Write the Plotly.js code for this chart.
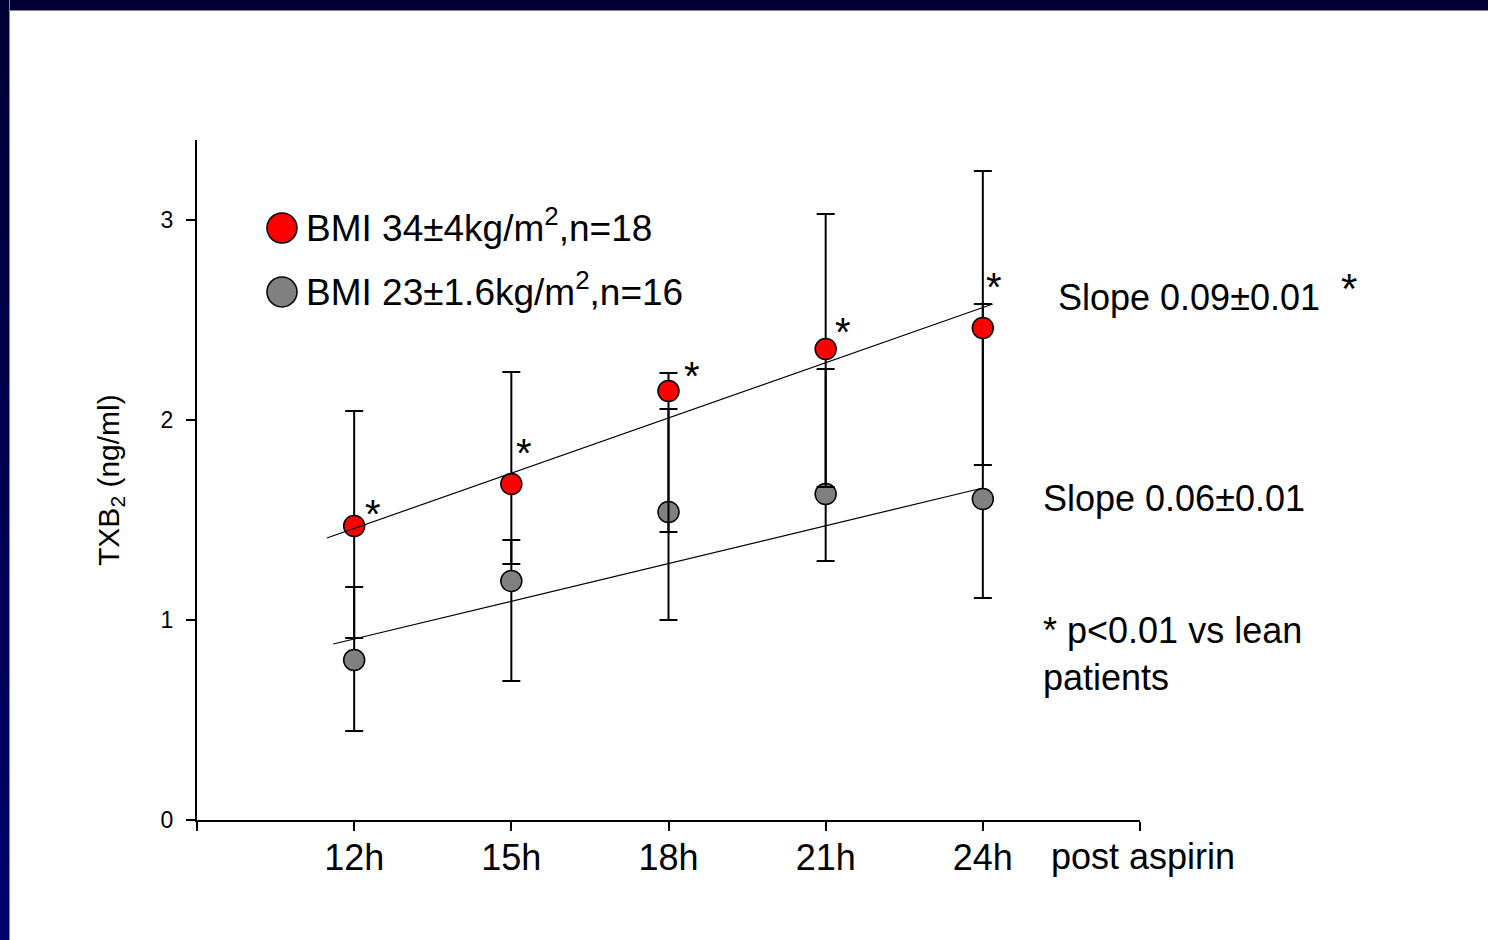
<!DOCTYPE html>
<html>
<head>
<meta charset="utf-8">
<script src="https://cdn.plot.ly/plotly-3.0.1.min.js"></script>
<style>
  html, body { margin: 0; padding: 0; background: #ffffff; }
  #wrap { position: relative; width: 1488px; height: 940px; overflow: hidden; background: #ffffff; }
  #topband { position: absolute; left: 0; top: 0; width: 1488px; height: 10px; background: #000033; border-bottom: 1px solid #8a8a8a; }
  #leftband { position: absolute; left: 0; top: 0; width: 9px; height: 940px; background: linear-gradient(#000033, #00006c); border-right: 1px solid #8a8a8a; }
  #chart { position: absolute; left: 0; top: 0; width: 1488px; height: 940px; }
</style>
</head>
<body>
<div id="wrap">
  <div id="chart"></div>
  <div id="topband"></div>
  <div id="leftband"></div>
</div>
<script>
// ---- data ----
const hours = [12, 15, 18, 21, 24];
const hourTickText = ['12h', '15h', '18h', '21h', '24h'];
const axisEndTicks = [9, 27];
const yTickVals = [0, 1, 2, 3];

const obeseMean = [1.47, 1.68, 2.145, 2.355, 2.46];
const obeseErrPlus = [0.575, 0.56, 0.09, 0.675, 0.785];
const obeseErrMinus = [0.56, 0.40, 0.705, 0.69, 0.685];

const leanMean = [0.80, 1.195, 1.54, 1.63, 1.605];
const leanErrPlus = [0.365, 0.205, 0.515, 0.625, 0.975];
const leanErrMinus = [0.355, 0.50, 0.54, 0.335, 0.495];

// regression line end points
const obeseFitX = [11.48, 24.19];
const obeseFitY = [1.41, 2.58];
const leanFitX = [11.6, 24.0];
const leanFitY = [0.88, 1.66];

// significance asterisk heights (ng/ml)
const starY = [1.55, 1.855, 2.24, 2.46, 2.685];

const obeseLabel = 'BMI 34±4kg/m<sup>2</sup>,n=18';
const leanLabel = 'BMI 23±1.6kg/m<sup>2</sup>,n=16';
const obeseSlope = 'Slope 0.09±0.01';
const leanSlope = 'Slope 0.06±0.01';
const pNote = '* p<0.01 vs lean<br>patients';
const xSuffix = 'post aspirin';
const yTitle = 'TXB<sub>2</sub> (ng/ml)';

// ---- styling ----
const FONT = 'Arial, "Liberation Sans", sans-serif';
const RED = '#ff0000';
const GREY = '#808080';
const BIG = 36;

const errStyle = (plus, minus) => ({
  type: 'data', symmetric: false, array: plus, arrayminus: minus,
  color: '#000000', thickness: 2, width: 9
});

const traces = [
  {
    x: hours, y: leanMean, type: 'scatter', mode: 'markers',
    marker: { size: 21, color: GREY, line: { color: '#000000', width: 1.5 } },
    error_y: errStyle(leanErrPlus, leanErrMinus),
    hoverinfo: 'x+y', showlegend: false
  },
  {
    x: hours, y: obeseMean, type: 'scatter', mode: 'markers',
    marker: { size: 21, color: RED, line: { color: '#000000', width: 1.5 } },
    error_y: errStyle(obeseErrPlus, obeseErrMinus),
    hoverinfo: 'x+y', showlegend: false
  },
  {
    x: leanFitX, y: leanFitY, type: 'scatter', mode: 'lines',
    line: { color: '#000000', width: 1.2 }, hoverinfo: 'skip', showlegend: false
  },
  {
    x: obeseFitX, y: obeseFitY, type: 'scatter', mode: 'lines',
    line: { color: '#000000', width: 1.2 }, hoverinfo: 'skip', showlegend: false
  }
];

const annotations = [];
hours.forEach((h, i) => {
  annotations.push({
    x: h, y: starY[i], xref: 'x', yref: 'y', text: '*', showarrow: false,
    xshift: [19, 13, 23, 17, 11][i], yshift: -4,
    font: { family: FONT, size: 40, color: '#000000' }
  });
});

const txt = (text, x, y, size, extra) => Object.assign({
  text: text, x: x, y: y, xref: 'paper', yref: 'paper', showarrow: false,
  xanchor: 'left', yanchor: 'middle', align: 'left',
  font: { family: FONT, size: size, color: '#000000' }
}, extra || {});

annotations.push(txt(obeseLabel, 0.1135, 0.874, 37));
annotations.push(txt(leanLabel, 0.1135, 0.780, 37));
annotations.push(txt(obeseSlope, 0.911, 0.769, BIG));
annotations.push(txt('*', 1.211, 0.782, 42));
annotations.push(txt(leanSlope, 0.895, 0.4735, BIG));
annotations.push(txt(pNote, 0.895, 0.2434, BIG));
annotations.push(txt(xSuffix, 0.903, -0.0544, BIG));
annotations.push(txt(yTitle, -0.0923, 0.5, 30, { xanchor: 'center', textangle: -90 }));

const shapes = [
  { type: 'circle', xref: 'paper', yref: 'paper', xsizemode: 'pixel', ysizemode: 'pixel',
    xanchor: 0.0901, yanchor: 0.8706, x0: -15, x1: 15, y0: -15, y1: 15,
    fillcolor: RED, line: { color: '#000000', width: 1.5 } },
  { type: 'circle', xref: 'paper', yref: 'paper', xsizemode: 'pixel', ysizemode: 'pixel',
    xanchor: 0.0901, yanchor: 0.7765, x0: -15, x1: 15, y0: -15, y1: 15,
    fillcolor: GREY, line: { color: '#000000', width: 1.5 } }
];

const layout = {
  width: 1488, height: 940,
  margin: { l: 197, r: 348, t: 140, b: 120, pad: 0 },
  paper_bgcolor: 'rgba(0,0,0,0)', plot_bgcolor: 'rgba(0,0,0,0)',
  font: { family: FONT, color: '#000000' },
  showlegend: false,
  xaxis: {
    range: [9, 27], showgrid: false, zeroline: false,
    showline: true, linecolor: '#000000', linewidth: 2,
    ticks: 'outside', ticklen: 9, tickwidth: 2, tickcolor: '#000000',
    tickvals: hours, ticktext: hourTickText, ticklabelstandoff: -4,
    tickfont: { family: FONT, size: BIG, color: '#000000' },
    minor: { tickmode: 'array', tickvals: axisEndTicks, ticks: 'outside', ticklen: 9,
             tickwidth: 2, tickcolor: '#000000', showgrid: false }
  },
  yaxis: {
    range: [0, 3.4], showgrid: false, zeroline: false,
    showline: true, linecolor: '#000000', linewidth: 2,
    ticks: 'outside', ticklen: 9, tickwidth: 2, tickcolor: '#000000',
    tickvals: yTickVals, ticklabelstandoff: 8,
    tickfont: { family: FONT, size: 23, color: '#000000' }
  },
  annotations: annotations,
  shapes: shapes
};

Plotly.newPlot('chart', traces, layout, { displayModeBar: false, staticPlot: true });
</script>
</body>
</html>
